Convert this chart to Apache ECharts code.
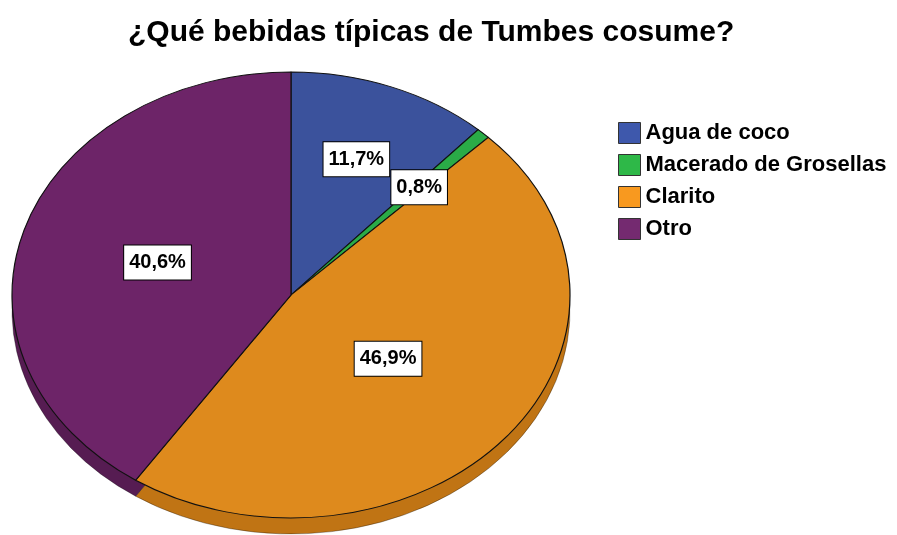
<!DOCTYPE html>
<html><head><meta charset="utf-8">
<script src="https://cdn.jsdelivr.net/npm/echarts@6/dist/echarts.min.js"></script>
<style>
html,body{margin:0;padding:0;background:#fff;}
#wrap{position:relative;width:897px;height:535px;overflow:hidden;background:#fff;}
#pie{position:absolute;left:0;top:0;width:897px;height:660px;transform:scaleY(0.7993);transform-origin:0 295px;}
#over{position:absolute;left:0;top:0;width:897px;height:535px;}
</style></head><body>
<div id="wrap"><div id="pie"></div><div id="over"></div></div>
<script>
// ---- data ----
const titleText = '¿Qué bebidas típicas de Tumbes cosume?';
const categories = ['Agua de coco', 'Macerado de Grosellas', 'Clarito', 'Otro'];
const percents = [11.7, 0.8, 46.9, 40.6];

// ---- styles / layout ----
const topColors = ['#3b529c', '#2aab47', '#de8a1d', '#6d2468'];
const sideColors = ['#2e4280', '#1f8a37', '#c07414', '#561c52'];
const legendColors = ['#3e58ac', '#2eb848', '#f8991f', '#742a70'];
const FONT = '"Liberation Sans", Arial, sans-serif';
const CX = 291, CY = 295, R = 279, K = 0.7993, DEPTH = 20;

const pieData = categories.map((c, i) => ({ name: c, value: percents[i], itemStyle: { color: topColors[i] } }));
const sideData = categories.map((c, i) => ({ name: c, value: percents[i], itemStyle: { color: sideColors[i] } }));

const chartA = echarts.init(document.getElementById('pie'), null, { renderer: 'svg' });
chartA.setOption({
  animation: false,
  series: [
    { type: 'pie', radius: R, center: [CX, CY + DEPTH], silent: true, z: 1,
      startAngle: 90, clockwise: true,
      label: { show: false }, labelLine: { show: false },
      itemStyle: { borderColor: 'rgba(0,0,0,0.35)', borderWidth: 1 },
      data: sideData },
    { type: 'pie', radius: R, center: [CX, CY], silent: true, z: 2,
      startAngle: 90, clockwise: true,
      label: { show: false }, labelLine: { show: false },
      itemStyle: { borderColor: '#111', borderWidth: 1.2 },
      data: pieData }
  ]
});

const total = percents.reduce((a, b) => a + b, 0);
function centroid(i) {
  let before = 0;
  for (let j = 0; j < i; j++) before += percents[j];
  const mid = (before + percents[i] / 2) / total * 2 * Math.PI;
  const half = Math.PI * percents[i] / total;
  const f = (2 / 3) * Math.sin(half) / half;
  return { x: CX + R * f * Math.sin(mid), y: CY - K * R * f * Math.cos(mid) };
}

const chartB = echarts.init(document.getElementById('over'), null, { renderer: 'canvas' });
chartB.setOption({
  animation: false,
  title: {
    text: titleText, left: 128, top: 18, padding: 0,
    textStyle: { fontSize: 30, fontWeight: 'bold', color: '#000', fontFamily: FONT }
  },
  legend: {
    orient: 'vertical', left: 618, top: 122, padding: 0,
    itemWidth: 22, itemHeight: 21, itemGap: 10, icon: 'rect', selectedMode: false,
    textStyle: { fontSize: 22, fontWeight: 'bold', color: '#000', fontFamily: FONT },
    data: categories.map((c, i) => ({ name: c, itemStyle: { color: legendColors[i], borderColor: '#333', borderWidth: 1 } }))
  },
  series: [{
    type: 'pie', radius: R, center: [CX, CY], silent: true,
    startAngle: 90, clockwise: true,
    itemStyle: { color: 'rgba(0,0,0,0)', borderWidth: 0 },
    label: {
      show: true, position: 'inside',
      formatter: p => p.value.toFixed(1).replace('.', ',') + '%',
      backgroundColor: '#fff', borderColor: '#000', borderWidth: 1,
      padding: [6, 5], fontSize: 20, lineHeight: 22, fontWeight: 'bold',
      color: '#000', fontFamily: FONT
    },
    labelLine: { show: false },
    labelLayout: p => centroid(p.dataIndex),
    data: categories.map((c, i) => ({ name: c, value: percents[i] }))
  }]
});
</script>
</body></html>
